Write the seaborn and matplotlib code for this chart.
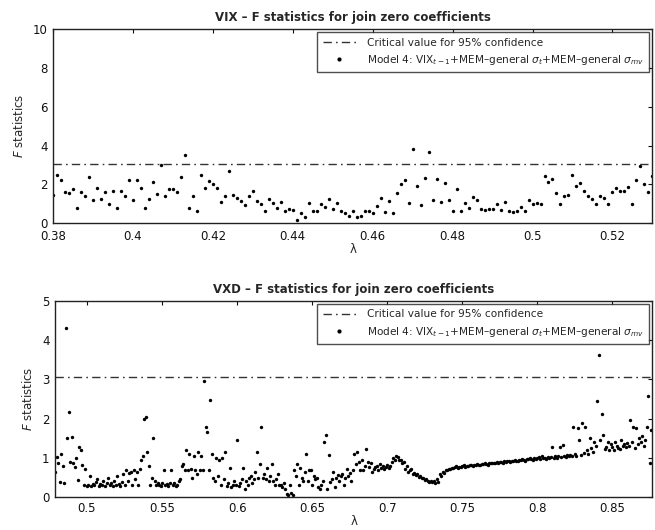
import numpy as np
import pandas as pd
import matplotlib
matplotlib.use("Agg")
import matplotlib.pyplot as plt
import seaborn as sns
from matplotlib.lines import Line2D

# ---------------- data ----------------
crit_vix = 3.03
crit_vxd = 3.06

F_vix = [1.45, 2.5, 2.2, 1.6, 1.55, 1.75, 0.8, 1.6, 1.4, 2.4,
         1.2, 1.8, 1.25, 1.6, 1.0, 1.65, 0.8, 1.65, 1.4, 2.2,
         1.2, 2.2, 1.8, 0.8, 1.25, 2.1, 1.5, 3.0, 1.4, 1.75,
         1.75, 1.6, 2.4, 3.5, 0.8, 1.4, 0.6, 2.5, 1.8, 2.15,
         2.0, 1.8, 1.1, 1.4, 2.7, 1.45, 1.3, 1.15, 0.95, 1.4,
         1.65, 1.15, 1.0, 0.6, 1.25, 1.05, 0.8, 1.1, 0.6, 0.75,
         0.7, 0.15, 0.5, 0.3, 1.05, 0.65, 0.65, 1.0, 0.85, 1.25,
         0.75, 1.05, 0.6, 0.5, 0.35, 0.6, 0.3, 0.35, 0.65, 0.65,
         0.5, 0.9, 1.3, 0.55, 1.15, 0.5, 1.55, 2.0, 2.2, 1.05,
         3.8, 1.9, 0.95, 2.35, 3.65, 1.2, 2.25, 1.1, 2.05, 1.2,
         0.6, 1.75, 0.6, 1.05, 0.8, 1.35, 1.2, 0.75, 0.7, 0.75,
         0.75, 1.0, 0.7, 1.1, 0.65, 0.55, 0.65, 0.85, 0.65, 1.2,
         1.0, 1.05, 1.0, 2.45, 2.1, 2.25, 1.55, 1.0, 1.4, 1.45,
         2.5, 1.9, 2.05, 1.65, 1.4, 1.25, 1.0, 1.4, 1.3, 1.0,
         1.6, 1.8, 1.65, 1.65, 1.85, 1.0, 2.2, 2.95, 2.0, 1.6, 2.45]
lam_vix_start, lam_vix_end = 0.380, 0.530

F_vxd = [0.65, 1.03, 0.86, 0.39, 1.11, 0.79, 0.35, 4.30, 1.50, 2.18,
         0.90, 1.54, 0.86, 0.77, 0.99, 0.43, 1.28, 1.20, 0.82, 0.31,
         0.73, 0.28, 0.30, 0.55, 0.28, 0.33, 0.30, 0.38, 0.45, 0.28,
         0.33, 0.30, 0.40, 0.28, 0.35, 0.50, 0.30, 0.36, 0.28, 0.42,
         0.30, 0.55, 0.33, 0.28, 0.38, 0.60, 0.30, 0.70, 0.40, 0.62,
         0.65, 0.30, 0.70, 0.45, 0.65, 0.30, 0.72, 0.95, 1.05, 2.00,
         2.05, 1.15, 0.80, 0.30, 0.50, 1.50, 0.40, 0.30, 0.35, 0.30,
         0.28, 0.35, 0.70, 0.30, 0.33, 0.28, 0.36, 0.70, 0.30, 0.35,
         0.28, 0.30, 0.40, 0.45, 0.80, 0.85, 0.70, 1.20, 0.70, 1.10,
         0.72, 0.50, 1.05, 0.70, 0.60, 1.15, 0.70, 1.05, 0.68, 2.95,
         1.80, 1.65, 0.70, 2.47, 1.10, 0.50, 0.40, 1.00, 0.55, 0.95,
         0.30, 1.00, 0.45, 1.15, 0.28, 0.35, 0.75, 0.25, 0.30, 0.40,
         0.30, 1.45, 0.28, 0.35, 0.45, 0.75, 0.20, 0.40, 0.30, 0.50,
         0.55, 0.35, 0.45, 0.65, 1.15, 0.50, 0.85, 1.80, 0.50, 0.60,
         0.45, 0.75, 0.40, 0.55, 0.85, 0.40, 0.30, 0.45, 0.60, 0.32,
         0.30, 0.25, 0.35, 0.20, 0.08, 0.05, 0.30, 0.10, 0.05, 0.70,
         0.55, 0.85, 0.30, 0.75, 0.50, 0.40, 0.65, 1.10, 0.40, 0.70,
         0.70, 0.30, 0.55, 0.45, 0.50, 0.25, 0.20, 0.30, 0.40, 1.40,
         1.58, 0.20, 1.07, 0.39, 0.45, 0.65, 0.26, 0.48, 0.56, 0.40,
         0.55, 0.60, 0.30, 0.48, 0.73, 0.55, 0.62, 0.40, 0.68, 1.11,
         0.85, 1.15, 0.90, 0.70, 0.94, 0.69, 0.80, 1.22, 0.90, 0.77,
         0.86, 0.65, 0.73, 0.77, 0.80, 0.70, 0.85, 0.75, 0.80, 0.72,
         0.78, 0.82, 0.75, 0.80, 0.90, 1.00, 0.95, 1.05, 1.03, 0.94,
         0.94, 0.86, 0.90, 0.73, 0.80, 0.65, 0.69, 0.72, 0.60, 0.62,
         0.56, 0.58, 0.52, 0.55, 0.48, 0.50, 0.43, 0.45, 0.40, 0.39,
         0.42, 0.38, 0.40, 0.36, 0.45, 0.38, 0.60, 0.55, 0.65, 0.62,
         0.68, 0.70, 0.73, 0.72, 0.75, 0.74, 0.76, 0.79, 0.75, 0.78,
         0.77, 0.79, 0.81, 0.78, 0.80, 0.80, 0.83, 0.81, 0.79, 0.83,
         0.82, 0.85, 0.83, 0.81, 0.85, 0.84, 0.88, 0.85, 0.83, 0.87,
         0.86, 0.88, 0.86, 0.87, 0.90, 0.87, 0.90, 0.89, 0.87, 0.91,
         0.90, 0.93, 0.91, 0.89, 0.93, 0.92, 0.95, 0.92, 0.91, 0.95,
         0.94, 0.97, 0.95, 0.93, 0.97, 0.96, 0.99, 0.96, 0.95, 0.99,
         0.98, 1.00, 1.02, 0.97, 1.05, 0.99, 1.01, 0.98, 1.03, 1.00,
         1.02, 1.28, 0.99, 1.04, 1.01, 1.06, 1.28, 1.03, 1.33, 1.05,
         1.02, 1.07, 1.04, 1.08, 1.05, 1.80, 1.10, 1.06, 1.76, 1.45,
         1.08, 1.88, 1.12, 1.80, 1.20, 1.10, 1.50, 1.25, 1.15, 1.40,
         1.30, 2.44, 3.62, 1.45, 2.13, 1.58, 1.24, 1.28, 1.41, 1.20,
         1.35, 1.28, 1.20, 1.41, 1.30, 1.25, 1.22, 1.45, 1.30, 1.35,
         1.28, 1.37, 1.30, 1.96, 1.41, 1.80, 1.25, 1.76, 1.35, 1.50,
         1.40, 1.55, 1.30, 1.45, 1.80, 2.57, 0.86, 1.70]
lam_vxd_start, lam_vxd_end = 0.479, 0.876

titles = ["VIX \u2013 F statistics for join zero coefficients",
          "VXD \u2013 F statistics for join zero coefficients"]
leg_crit = "Critical value for 95% confidence"
leg_model = "Model 4: VIX$_{t-1}$+MEM\u2013general $\\sigma_t$+MEM\u2013general $\\sigma_{mv}$"

x_ticks_vix = [0.38, 0.40, 0.42, 0.44, 0.46, 0.48, 0.50, 0.52]
x_ticks_vxd = [0.5, 0.55, 0.6, 0.65, 0.7, 0.75, 0.8, 0.85]
y_ticks_vix = [0, 2, 4, 6, 8, 10]
y_ticks_vxd = [0, 1, 2, 3, 4, 5]

df_vix = pd.DataFrame({"lam": np.linspace(lam_vix_start, lam_vix_end, len(F_vix)), "F": F_vix})
df_vxd = pd.DataFrame({"lam": np.linspace(lam_vxd_start, lam_vxd_end, len(F_vxd)), "F": F_vxd})

# ---------------- figure ----------------
sns.set_style("white")
plt.rcParams["font.family"] = ["DejaVu Sans"]
plt.rcParams["mathtext.fontset"] = "dejavusans"

fig = plt.figure(figsize=(6.55, 5.30), dpi=100)
ax1 = fig.add_axes([0.081, 0.579, 0.915, 0.366])
ax2 = fig.add_axes([0.084, 0.062, 0.912, 0.370])

dash = (0, (6, 3, 1.2, 3))

def fmt(v):
    return f"{v:.2f}".rstrip("0").rstrip(".")

def style(ax, title, xlim, ylim, xticks, yticks, xpad):
    ax.set_xlim(*xlim)
    ax.set_ylim(*ylim)
    ax.set_xticks(xticks)
    ax.set_xticklabels([fmt(v) for v in xticks])
    ax.set_yticks(yticks)
    ax.tick_params(direction="in", length=3, width=0.8, top=True, right=True,
                   labelsize=8.5, colors="#111111")
    ax.tick_params(axis="x", pad=xpad)
    ax.tick_params(axis="y", pad=4)
    for s in ax.spines.values():
        s.set_visible(True)
        s.set_color("#222222")
        s.set_linewidth(1.0)
    ax.set_title(title, fontsize=8.5, fontweight="bold", pad=6)
    ax.set_xlabel("\u03bb", fontsize=8.5, labelpad=0)
    ax.set_ylabel("$F$ statistics", fontsize=8.5, labelpad=5)
    handles = [Line2D([], [], color="#333333", lw=1.0, linestyle=dash),
               Line2D([], [], color="black", marker="o", markersize=2.0, lw=0)]
    leg = ax.legend(handles, [leg_crit, leg_model], loc="upper right",
                    fontsize=7.6, frameon=True, fancybox=False,
                    borderaxespad=0.3, handlelength=3.2, borderpad=0.5,
                    labelspacing=0.5, handletextpad=1.0)
    leg.get_frame().set_edgecolor("#222222")
    leg.get_frame().set_linewidth(1.0)

# Top: VIX
ax1.axhline(crit_vix, color="#333333", lw=1.0, linestyle=dash)
sns.scatterplot(data=df_vix, x="lam", y="F", ax=ax1, color="black",
                s=6, marker="o", linewidth=0)
style(ax1, titles[0], (0.380, 0.530), (0, 10), x_ticks_vix, y_ticks_vix, 5)

# Bottom: VXD
ax2.axhline(crit_vxd, color="#333333", lw=1.0, linestyle=dash)
sns.scatterplot(data=df_vxd, x="lam", y="F", ax=ax2, color="black",
                s=6, marker="o", linewidth=0)
style(ax2, titles[1], (0.4787, 0.8767), (0, 5), x_ticks_vxd, y_ticks_vxd, 3.5)

fig.savefig("out.png", dpi=100)
